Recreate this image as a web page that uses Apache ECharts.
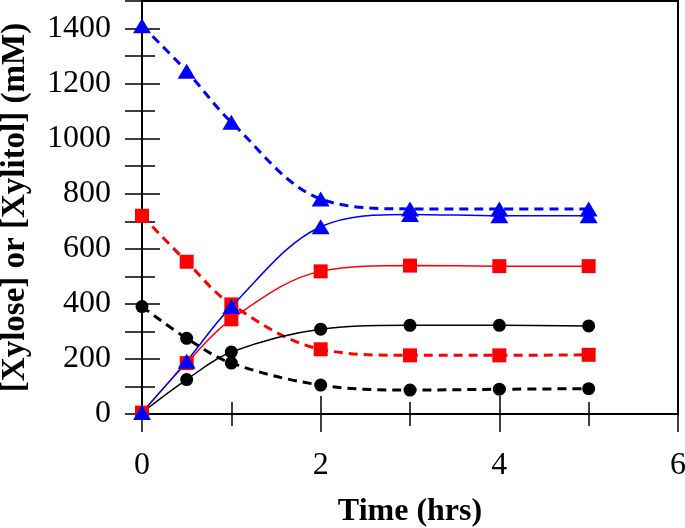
<!DOCTYPE html>
<html><head><meta charset="utf-8">
<script src="https://cdn.jsdelivr.net/npm/echarts@6/dist/echarts.min.js"></script>
<style>html,body{margin:0;padding:0;background:#fff}#c{width:685px;height:528px}</style>
</head><body><div id="c"></div>
<script>
const times = [0, 0.5, 1, 2, 3, 4, 5];
const blueDashed = [1410, 1245, 1060, 781, 745, 745, 745];
const blueSolid = [5, 192, 390, 680, 725, 720, 720];
const redDashed = [720, 553, 398, 235, 213, 213, 215];
const redSolid = [5, 185, 344, 518, 539, 537, 537];
const blackDashed = [390, 275, 185, 105, 87, 90, 92];
const blackSolid = [5, 125, 225, 308, 322, 322, 320];
const xTickLabels = ['0', '2', '4', '6'];
const yTickLabels = ['0', '200', '400', '600', '800', '1000', '1200', '1400'];

const font = 'Liberation Serif';
function pts(arr){ return times.map((t,i)=>[t,arr[i]]); }
function ser(data, color, dashed, symbol, size){
  return {
    type:'line', data: pts(data), smooth: 0.35, xAxisIndex:0, yAxisIndex:0,
    symbol: symbol, symbolSize: size, showSymbol:true,
    lineStyle:{color:color, width: dashed?3:1.5, type: dashed?[9,6]:'solid'},
    itemStyle:{color:color, borderWidth:0}, z: dashed?2:3
  };
}
const chart = echarts.init(document.getElementById('c'));
chart.setOption({
  animation:false,
  grid:{left:142, right:7, top:1, bottom:114, containLabel:false, outerBoundsMode:'none',
        show:true, borderColor:'#000', borderWidth:2, backgroundColor:'transparent'},
  xAxis:[
    {type:'value', position:'bottom', min:0, max:6, interval:2,
     axisLine:{show:true, onZero:false, lineStyle:{color:'#000', width:2}},
     axisTick:{show:true, inside:true, length:18, lineStyle:{color:'#000', width:1.5}},
     minorTick:{show:true, splitNumber:2, length:12, lineStyle:{color:'#000', width:1.5}},
     splitLine:{show:false},
     axisLabel:{fontFamily:font, fontSize:32, color:'#000', margin:36,
       formatter:v=>{const i=xTickLabels.indexOf(String(v)); return i>=0?xTickLabels[i]:'';}},
     name:'Time (hrs)', nameLocation:'middle', nameGap:82,
     nameTextStyle:{fontFamily:font, fontSize:32, fontWeight:'bold', color:'#000'}},
    {type:'value', position:'top', min:0, max:6, interval:2,
     axisLine:{show:true, lineStyle:{color:'#000', width:2}},
     axisTick:{show:true, inside:true, length:18, lineStyle:{color:'#000', width:1.5}},
     minorTick:{show:true, splitNumber:2, length:12, lineStyle:{color:'#000', width:1.5}},
     splitLine:{show:false}, axisLabel:{show:false}}
  ],
  yAxis:[
    {type:'value', position:'left', min:0, max:1500, interval:200,
     axisLine:{show:true, onZero:false, lineStyle:{color:'#000', width:2}},
     axisTick:{show:true, inside:true, length:18, lineStyle:{color:'#000', width:1.5}},
     splitLine:{show:false},
     axisLabel:{fontFamily:font, fontSize:32, color:'#000', margin:31,
       formatter:v=>{const i=yTickLabels.indexOf(String(v)); return i>=0?yTickLabels[i]:'';}},
     name:'[Xylose] or [Xylitol] (mM)', nameLocation:'middle', nameGap:110,
     nameTextStyle:{fontFamily:font, fontSize:33, fontWeight:'bold', color:'#000'}},
    {type:'value', position:'left', min:0, max:1500, interval:100,
     axisLine:{show:false}, axisTick:{show:true, inside:true, length:13, lineStyle:{color:'#000', width:1.5}},
     splitLine:{show:false}, axisLabel:{show:false}},
    {type:'value', position:'right', min:0, max:1500, interval:100,
     axisLine:{show:true, lineStyle:{color:'#000', width:2}},
     axisTick:{show:true, inside:true, length:17, lineStyle:{color:'#000', width:1.5}},
     splitLine:{show:false}, axisLabel:{show:false}}
  ],
  series:[
    ser(blackDashed, '#000000', true, 'circle', 13),
    ser(redDashed, '#ff0000', true, 'rect', 14),
    ser(blueDashed, '#0000ff', true, 'triangle', [18,15]),
    ser(blackSolid, '#000000', false, 'circle', 13),
    ser(redSolid, '#ff0000', false, 'rect', 14),
    ser(blueSolid, '#0000ff', false, 'triangle', [18,15])
  ]
});
</script></body></html>
